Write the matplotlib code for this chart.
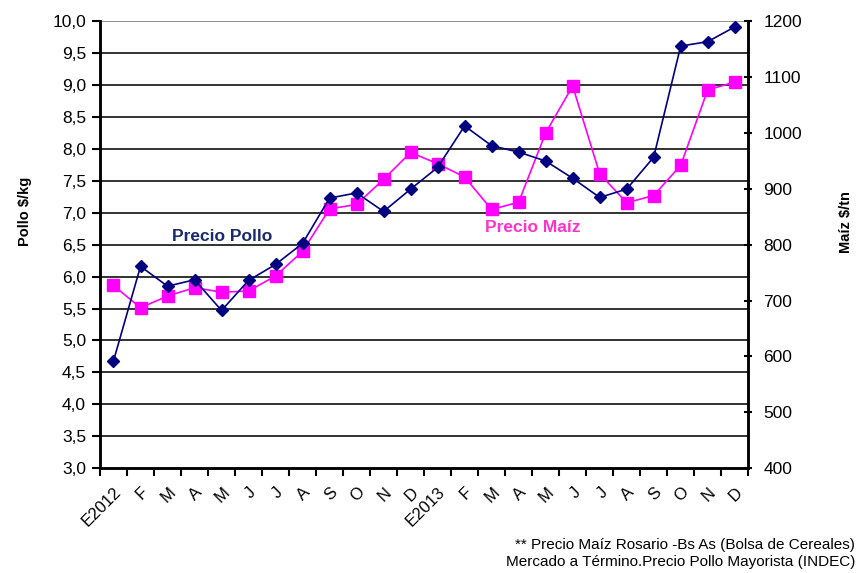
import matplotlib.pyplot as plt
import numpy as np

plt.rcParams['font.family'] = ['Liberation Sans', 'DejaVu Sans']

meses = ['E2012', 'F', 'M', 'A', 'M', 'J', 'J', 'A', 'S', 'O', 'N', 'D',
         'E2013', 'F', 'M', 'A', 'M', 'J', 'J', 'A', 'S', 'O', 'N', 'D']

# Precio pollo mayorista ($/kg), eje izquierdo
pollo = [4.68, 6.16, 5.85, 5.95, 5.47, 5.94, 6.19, 6.52, 7.23, 7.31, 7.02, 7.37,
         7.71, 8.36, 8.05, 7.95, 7.81, 7.54, 7.24, 7.37, 7.87, 9.61, 9.68, 9.91]

# Precio maiz Rosario ($/tn), eje derecho
maiz = [727, 687, 708, 723, 715, 717, 744, 788, 864, 872, 917, 965,
        945, 921, 863, 876, 1000, 1084, 927, 875, 888, 942, 1077, 1091]

navy = '#000080'
magenta = '#FF00FF'

fig = plt.figure(figsize=(8.62, 5.73), dpi=100)
ax = fig.add_axes([0.116, 0.183, 0.752, 0.780])
ax2 = ax.twinx()

x = np.arange(len(meses))

ax.set_zorder(ax2.get_zorder() + 1)
ax.patch.set_visible(False)

ax2.plot(x, maiz, color=magenta, lw=1.2, marker='s', ms=9, mfc=magenta, mec=magenta)
ax.plot(x, pollo, color=navy, lw=1.2, marker='D', ms=6, mfc=navy, mec=navy)

ax.set_xlim(-0.5, len(meses) - 0.5)
ax.set_ylim(3.0, 10.0)
ax2.set_ylim(400, 1200)

ax.set_yticks(np.arange(3.0, 10.01, 0.5))
ax.set_yticklabels([f'{v:.1f}'.replace('.', ',') for v in np.arange(3.0, 10.01, 0.5)])
ax2.set_yticks(np.arange(400, 1201, 100))

# lineas de grilla cada 0,5 del eje izquierdo
for v in np.arange(3.5, 10.01, 0.5):
    ax2.axhline(400 + (v - 3.0) / 7.0 * 800, color='#222222' if v < 10 else '#888888',
                lw=1.3, zorder=0)

ax.set_xticks(x)
ax.set_xticklabels(meses, rotation=45, ha='right', va='top', rotation_mode='anchor')
ax.set_xticks(np.arange(-0.5, len(meses), 1), minor=True)
ax.tick_params(axis='x', which='major', length=0, pad=12, labelsize=12)
ax.tick_params(axis='x', which='minor', length=6, width=1.5, direction='out')
ax.tick_params(axis='y', length=6, width=1.5, direction='out', labelsize=12.5, pad=4)
ax2.tick_params(axis='y', length=6, width=1.5, direction='inout', labelsize=12.5, pad=8)

for a in (ax, ax2):
    a.spines['top'].set_visible(False)
    for s in ('left', 'right', 'bottom'):
        a.spines[s].set_linewidth(1.8)

ax.set_ylabel('Pollo $/kg', fontsize=10.5, fontweight='bold')
ax.yaxis.set_label_coords(-0.105, 0.575)
ax2.set_ylabel('Maíz $/tn', fontsize=10.5, fontweight='bold')
ax2.yaxis.set_label_coords(1.14, 0.55)

ax.text(2.15, 6.63, 'Precio Pollo', color='#1a2a6c', fontsize=12.5, fontweight='bold',
        va='center', ha='left')
ax.text(13.75, 6.77, 'Precio Maíz', color='#FF33CC', fontsize=12.5, fontweight='bold',
        va='center', ha='left')

fig.text(0.992, 0.034, '** Precio Maíz Rosario -Bs As (Bolsa de Cereales)\n'
         'Mercado a Término.Precio Pollo Mayorista (INDEC)',
         ha='right', va='center', fontsize=11, linespacing=1.2,
         fontstretch='condensed')

fig.savefig('out.png', dpi=100)
